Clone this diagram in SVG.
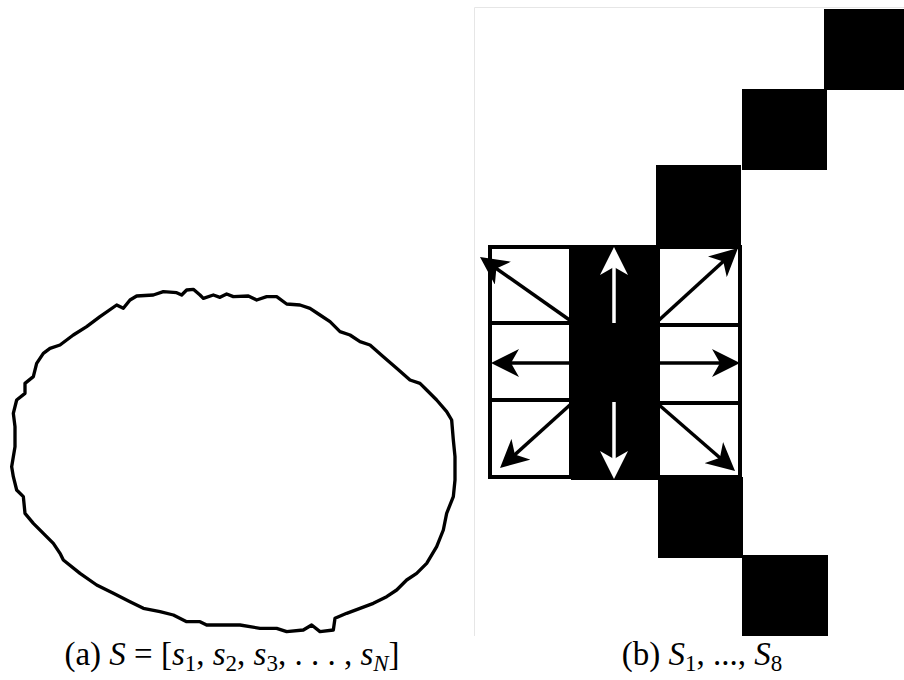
<svg xmlns="http://www.w3.org/2000/svg" width="904" height="680" viewBox="0 0 904 680">
<style>
.blk{fill:#000}
.box{fill:#fff;stroke:#000;stroke-width:4}
.arr{stroke:#000;stroke-width:3.5;fill:none}
.warr{stroke:#fff;stroke-width:3.5;fill:none}
.cap{font-family:"Liberation Serif","DejaVu Serif",serif;font-size:33px;fill:#000}
.it{font-style:italic}
.sub{font-size:23px}
</style>
<defs>
<marker id="ah" markerUnits="userSpaceOnUse" markerWidth="28" markerHeight="28" viewBox="0 0 28 28" refX="22" refY="14" orient="auto">
<path d="M28 14 L0 0 L8 14 L0 28 Z" fill="#000"/>
</marker>
<marker id="wah" markerUnits="userSpaceOnUse" markerWidth="28" markerHeight="28" viewBox="0 0 28 28" refX="22" refY="14" orient="auto">
<path d="M28 14 L0 0 L8 14 L0 28 Z" fill="#fff"/>
</marker>
</defs>
<rect width="904" height="680" fill="#fff"/>

<g id="contour">
<path transform="translate(0,280) scale(0.33333)" fill="none" stroke="#000" stroke-width="10" stroke-linejoin="round" d="M560,30 L580,28 L600,45 L610,55 L640,45 L660,52 L680,42 L700,50 L745,48 L770,60 L800,50 L830,50 L860,72 L900,75 L930,85 L960,105 L990,125 L1020,155 L1050,165 L1080,185 L1110,195 L1150,230 L1190,265 L1230,300 L1260,310 L1280,330 L1310,360 L1340,395 L1355,420 L1360,480 L1365,530 L1365,600 L1360,650 L1340,700 L1330,750 L1310,800 L1280,850 L1250,880 L1220,900 L1190,930 L1160,950 L1120,970 L1080,985 L1040,1000 L1005,1015 L1000,1050 L960,1055 L935,1035 L910,1050 L860,1055 L830,1045 L780,1045 L720,1035 L620,1035 L600,1025 L560,1025 L520,1005 L480,995 L430,985 L390,965 L340,940 L290,915 L240,880 L190,840 L180,820 L160,790 L130,760 L100,730 L75,700 L70,650 L50,630 L40,590 L35,560 L45,500 L45,440 L40,400 L50,360 L75,340 L75,310 L100,290 L110,250 L130,220 L150,205 L180,195 L220,165 L260,140 L300,110 L350,75 L370,85 L390,60 L410,48 L460,45 L490,35 L530,38 L545,45 Z"/>
</g>

<g id="frame">
<path d="M474.5 636 V7.5 H904" fill="none" stroke="#e6e6e6" stroke-width="1"/>
</g>

<g id="pixels">
<rect class="blk" x="824" y="9" width="82" height="81"/>
<rect class="blk" x="742" y="89" width="85" height="81"/>
<rect class="blk" x="656" y="165" width="85" height="83"/>
<rect class="blk" x="658" y="477" width="85" height="81"/>
<rect class="blk" x="742" y="555" width="86" height="81"/>
</g>

<g id="neighbours">
<rect class="box" x="490" y="247" width="81" height="76"/>
<rect class="box" x="490" y="323" width="81" height="77"/>
<rect class="box" x="490" y="400" width="81" height="77"/>
<rect class="box" x="658" y="247" width="82" height="78"/>
<rect class="box" x="658" y="325" width="82" height="78"/>
<rect class="box" x="658" y="403" width="82" height="74"/>
</g>

<g id="center">
<rect class="blk" x="571" y="245" width="87" height="235"/>
</g>

<g id="connectors">
<line class="arr" x1="571" y1="321" x2="484.9" y2="260.5" marker-end="url(#ah)"/>
<line class="arr" x1="658" y1="321" x2="733.6" y2="252" marker-end="url(#ah)"/>
<line class="arr" x1="571" y1="363" x2="497" y2="363" marker-end="url(#ah)"/>
<line class="arr" x1="658" y1="363" x2="734" y2="363" marker-end="url(#ah)"/>
<line class="arr" x1="571" y1="404" x2="504.5" y2="464" marker-end="url(#ah)"/>
<line class="arr" x1="658" y1="404" x2="730.5" y2="467" marker-end="url(#ah)"/>
<line class="warr" x1="614" y1="323" x2="614" y2="253" marker-end="url(#wah)"/>
<line class="warr" x1="614" y1="402" x2="614" y2="473" marker-end="url(#wah)"/>
</g>

<g id="captions">
<text class="cap" x="232" y="665" text-anchor="middle">(a) <tspan class="it">S</tspan> = [<tspan class="it">s</tspan><tspan class="sub" dy="6">1</tspan><tspan dy="-6">, </tspan><tspan class="it">s</tspan><tspan class="sub" dy="6">2</tspan><tspan dy="-6">, </tspan><tspan class="it">s</tspan><tspan class="sub" dy="6">3</tspan><tspan dy="-6">, . . . , </tspan><tspan class="it">s</tspan><tspan class="sub it" dy="6">N</tspan><tspan dy="-6">]</tspan></text>
<text class="cap" x="702" y="665" text-anchor="middle">(b) <tspan class="it">S</tspan><tspan class="sub" dy="6">1</tspan><tspan dy="-6">, ..., </tspan><tspan class="it">S</tspan><tspan class="sub" dy="6">8</tspan></text>
</g>
</svg>
